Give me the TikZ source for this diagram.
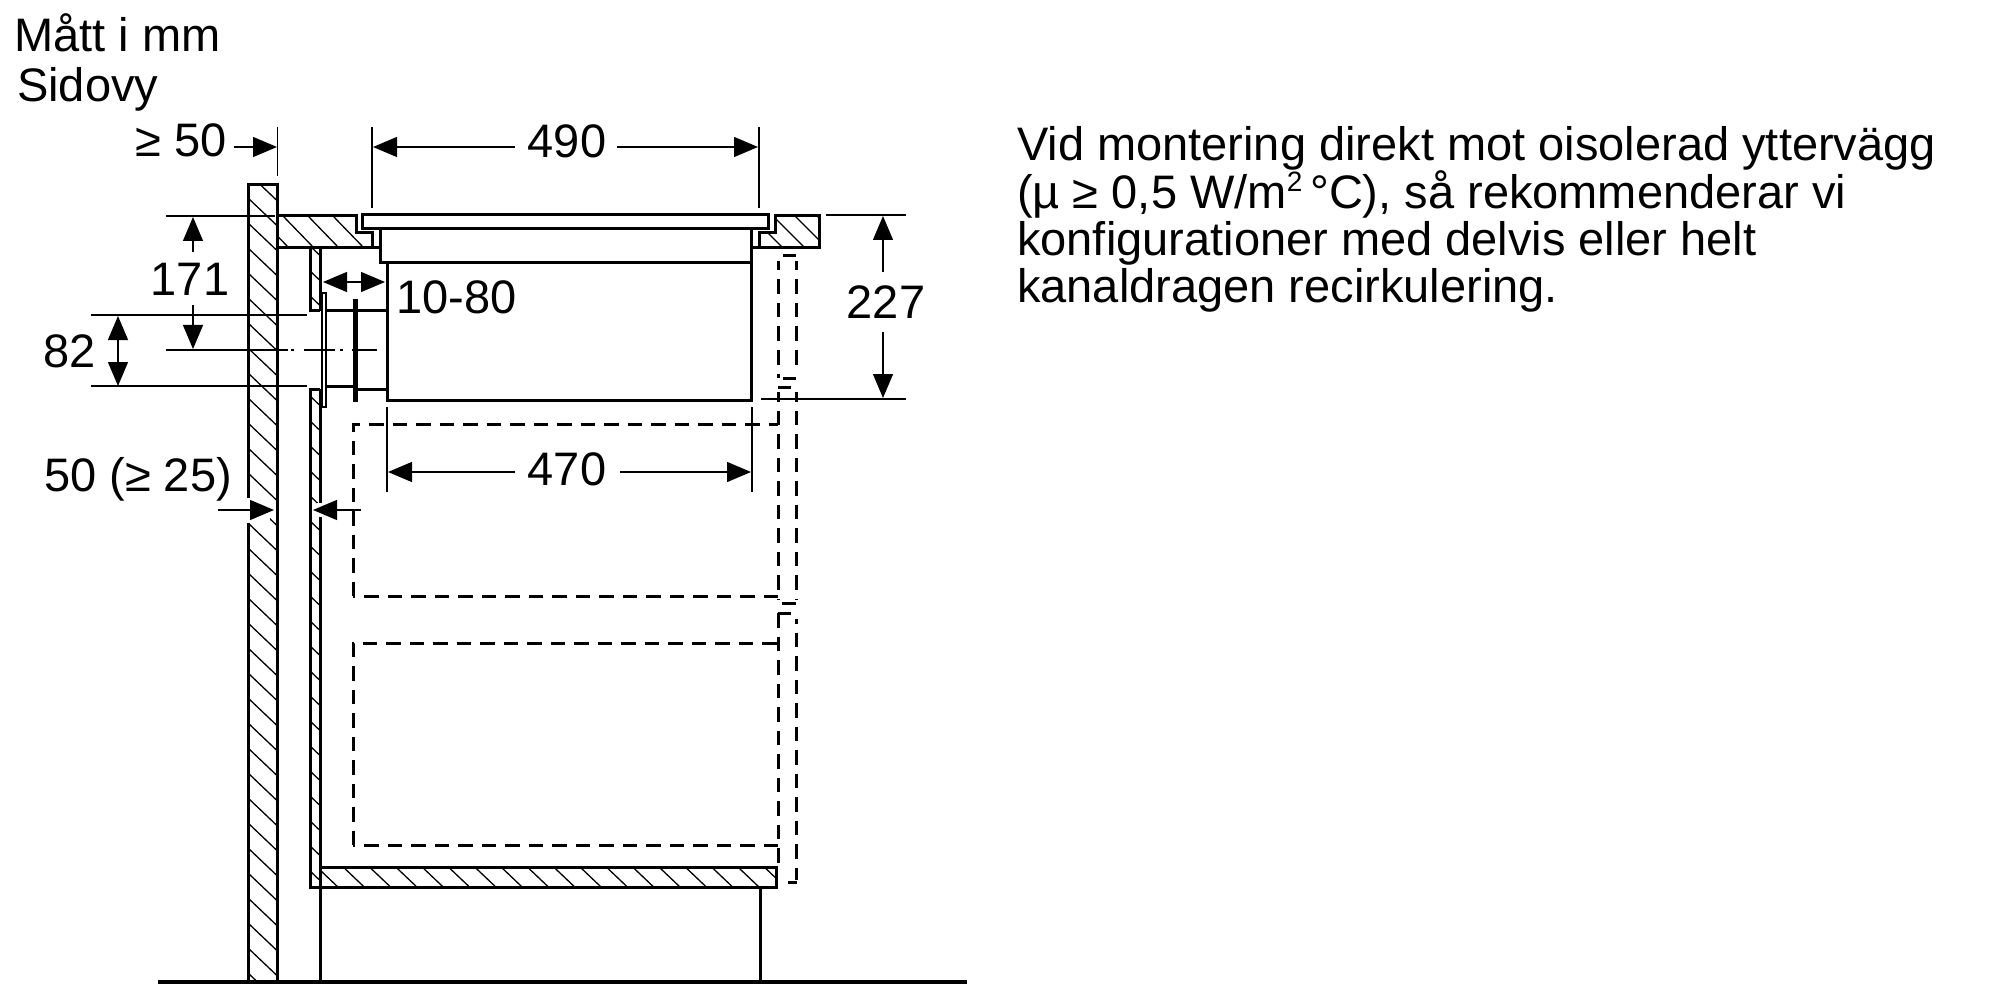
\documentclass[tikz,border=0pt]{standalone}
\usepackage{fontspec}
\setmainfont{Liberation Sans}
\usetikzlibrary{arrows.meta}
\tikzset{
  x=1pt,y=-1pt,
  heavy/.style={line width=3pt,line join=miter,line cap=butt},
  hatchline/.style={line width=1.3pt},
  dashline/.style={line width=3pt,dash pattern=on 14.5pt off 9pt},
  dim/.style={line width=1.3pt},
  tip/.style={-{Triangle[length=24pt,width=20pt]}},
  both/.style={{Triangle[length=24pt,width=20pt]}-{Triangle[length=24pt,width=20pt]}},
  lab/.style={font=\fontsize{47}{47}\selectfont,inner sep=0pt,anchor=base},
  txt/.style={font=\fontsize{47}{47}\selectfont,inner sep=0pt,anchor=north west,align=left},
}
\newcommand{\hatchregion}[5]{% x1,y1,x2,y2,phase
  \begin{scope}
    \clip (#1,#2) rectangle (#3,#4);
    \foreach \k in {-60,...,60}{
      \draw[hatchline] ({#1},{#2+#5+\k*25}) -- ({#1+1000},{#2+#5+\k*25+950});
    }
  \end{scope}}
\begin{document}
\begin{tikzpicture}
\useasboundingbox (0,0) rectangle (2000,1000);
\fill[white] (0,0) rectangle (2000,1000);

% hatches
\hatchregion{248}{185}{277}{982}{13}
\hatchregion{310}{248}{320}{311}{23}
\hatchregion{310}{389}{320}{887}{7}
\hatchregion{320}{867}{776}{887}{3}
\begin{scope}
  \clip (277,216) -- (356,216) -- (356,233) -- (372,233) -- (372,248) -- (277,248) -- cycle;
  \foreach \k in {-2,...,4}{\draw[hatchline] ({283+\k*25},216) -- ({283+\k*25+31},248);}
\end{scope}
\begin{scope}
  \clip (775,216) -- (819,216) -- (819,248) -- (759,248) -- (759,233) -- (775,233) -- cycle;
  \foreach \k in {-2,...,3}{\draw[hatchline] ({773+\k*22},216) -- ({773+\k*22+32},248);}
\end{scope}

% wall
\draw[heavy] (248,982) -- (248,185) -- (277,185) -- (277,982);
% back panel
\draw[heavy] (320,248) -- (310,248) -- (310,311) -- (320,311);
\draw[heavy] (320,248) -- (320,311);
\draw[heavy] (320,389) -- (310,389) -- (310,887) -- (776,887) -- (776,867) -- (320,867);
\draw[heavy] (320,389) -- (320,982);
\draw[heavy] (760,887) -- (760,982);
% ground
\draw[line width=4.5pt] (158,982) -- (967,982);
% left counter
\draw[heavy] (277,216) -- (356,216) -- (356,233) -- (372,233) -- (372,248) -- (277,248);
\draw[heavy] (372,248) -- (380,248);
% right counter
\draw[heavy] (775,216) -- (819,216) -- (819,248) -- (759,248) -- (759,233) -- (775,233) -- cycle;
\draw[heavy] (751,248) -- (759,248);
% cooktop
\draw[heavy] (362,215) rectangle (768,229);
\draw[heavy] (380,229) -- (380,263) -- (751,263) -- (751,229);
\draw[heavy] (387,263) rectangle (751,400);
% duct
\draw[line width=2pt] (322,293) rectangle (326,407);
\draw[line width=5pt] (355,299) -- (355,402);
\draw[heavy] (326,311) -- (387,311);
\draw[heavy] (326,386) -- (355,386);
\draw[heavy] (355,389) -- (387,389);
% centre line
\draw[dim] (166,350) -- (288,350);
\draw[line width=2pt] (291,350) -- (294,350);
\draw[line width=2pt] (304,350) -- (335,350);
\draw[line width=2pt] (340,350) -- (343,350);
\draw[line width=2pt] (352,350) -- (377,350);

% dashed cabinets
\draw[dashline] (353,596) -- (353,424) -- (778,424);
\draw[dashline] (778,596) -- (353,596);
\draw[dashline] (353,845) -- (353,643) -- (778,643);
\draw[dashline] (778,845) -- (353,845);
% dashed column
\draw[line width=3pt] (783,256) -- (796,256);
\draw[dashline,dash phase=5pt] (778,261) -- (778,378);
\draw[dashline,dash phase=5pt] (796,261) -- (796,372);
\draw[line width=3pt] (783,378) -- (796,378);
\draw[line width=3pt] (778,387) -- (791,387);
\draw[dashline,dash phase=5pt] (778,392) -- (778,600);
\draw[dashline,dash phase=5pt] (796,392) -- (796,600);
\draw[line width=3pt] (782,603) -- (796,603);
\draw[line width=3pt] (778,613) -- (791,613);
\draw[dashline] (778,613) -- (778,867);
\draw[dashline,dash phase=10pt] (796,619) -- (796,880);
\draw[line width=3pt] (788,882) -- (797,882);

% white gaps for dimension 50 (>=25)
\fill[white] (245,498) rectangle (251,523);
\fill[white] (251,498) rectangle (270,521);
\fill[white] (317,503) rectangle (323,517);

% dimensions
\draw[dim] (277.5,127) -- (277.5,176);
\draw[dim,tip] (234,147) -- (277,147);
\draw[dim] (372,127) -- (372,208);
\draw[dim] (759,127) -- (759,208);
\draw[dim,tip] (515,147) -- (373,147);
\draw[dim,tip] (617,147) -- (758,147);

\draw[dim] (166,216) -- (275,216);
\draw[dim,tip] (193,252) -- (193,217);
\draw[dim,tip] (193,305) -- (193,349);

\draw[dim] (91,315) -- (307,315);
\draw[dim] (91,386) -- (307,386);
\draw[dim,both] (118,316) -- (118,386);

\draw[dim,both] (323,282) -- (385,282);

\draw[dim] (826,215) -- (906,215);
\draw[dim] (761,399) -- (906,399);
\draw[dim,tip] (883,272) -- (883,216);
\draw[dim,tip] (883,332) -- (883,398);

\draw[dim] (387,407) -- (387,492);
\draw[dim] (752,407) -- (752,492);
\draw[dim,tip] (515,472) -- (388,472);
\draw[dim,tip] (620,472) -- (751,472);

\draw[dim,tip] (218,510) -- (274,510);
\draw[dim,tip] (361,510) -- (313,510);

% labels
\node[lab] (t1) at (181,157) {≥ 50};
\node[lab] (t2) at (567,158) {490};
\node[lab] (t3) at (190,296) {171};
\node[lab] (t4) at (70,367) {82};
\node[lab,anchor=base west] (t5) at (396,314) {10-80};
\node[lab] (t6) at (886,319) {227};
\node[lab] (t7) at (567,485) {470};
\node[lab] (t8) at (138,491) {50 (≥ 25)};
\node[lab,anchor=base west] (t9) at (14,52) {Mått i mm};
\node[lab,anchor=base west] (t10) at (17,102) {Sidovy};
\node[txt] (t11) at (1017,126) {Vid montering direkt mot oisolerad yttervägg\\
(µ ≥ 0,5 W/m\raisebox{0.36em}{\fontsize{28}{28}\selectfont 2}\,°C), så rekommenderar vi\\
konfigurationer med delvis eller helt\\
kanaldragen recirkulering.};
\end{tikzpicture}
\end{document}
